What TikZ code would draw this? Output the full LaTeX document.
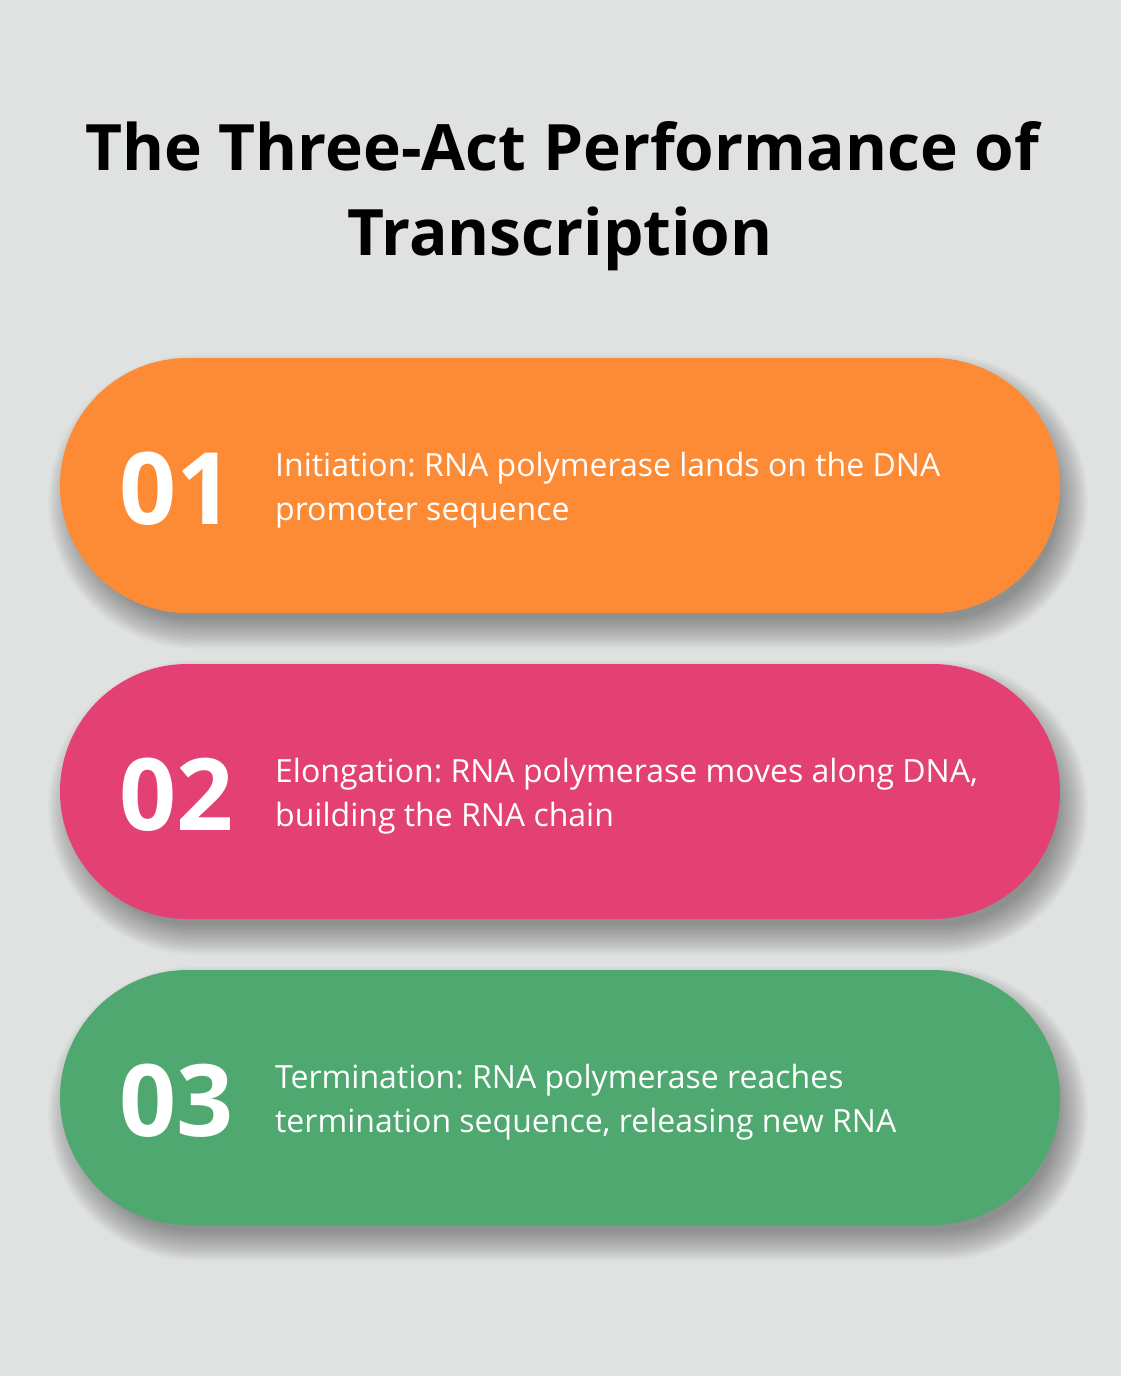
\documentclass[tikz,border=0pt]{standalone}
\usepackage{fontspec}
\setmainfont{Open Sans}
\frenchspacing
\definecolor{bgcol}{HTML}{E0E2E1}
\definecolor{actone}{HTML}{FD8A34}
\definecolor{acttwo}{HTML}{E34174}
\definecolor{actthree}{HTML}{4EA86F}
\tikzset{
  numtext/.style={anchor=base west, inner sep=0pt, text=white, font=\fontsize{100}{100}\selectfont\bfseries},
  bodytext/.style={anchor=base west, inner sep=0pt, text=white, font=\fontsize{32}{44}\selectfont},
  titletext/.style={anchor=base, inner sep=0pt, font=\fontsize{64}{85}\selectfont\bfseries}
}
\begin{document}
\begin{tikzpicture}[x=1pt, y=-1pt, line join=round, line cap=round]
			\def\pl{60} \def\pr{1060} \def\ph{255} \def\rad{127.5}
			\useasboundingbox (0,0) rectangle (1120,1376);
			\fill[bgcol] (-5,-5) rectangle (1125,1381);
			\node[titletext] (title1) at (562,170) {The Three-Act Performance of};
			\node[titletext] (title2) at (560,255) {Transcription};
			\foreach \t/\c/\n/\a/\b in {358/actone/01/{Initiation: RNA polymerase lands on the DNA}/{promoter sequence},
				664/acttwo/02/{Elongation: RNA polymerase moves along DNA,}/{building the RNA chain},
				970/actthree/03/{Termination: RNA polymerase reaches}/{termination sequence, releasing new RNA}}{
				% soft shadow
				\foreach \k in {0,...,23}{
				\pgfmathsetmacro\d{1.3*\k-10}
				\fill[black, opacity=0.015, rounded corners={\rad+\d}] (\pl+8-\d,\t+16-\d) rectangle (\pr+8+\d,\t+\ph+16+\d);
				}
				\fill[\c, rounded corners=\rad] (\pl,\t) rectangle (\pr,\t+\ph);
				\node[numtext] (num\n) at (119,\t+166) {\n};
				\node[bodytext] (line\n a) at (275,\t+118) {\a};
				\node[bodytext] (line\n b) at (275,\t+162) {\b};
			}
		\end{tikzpicture}
\end{document}
